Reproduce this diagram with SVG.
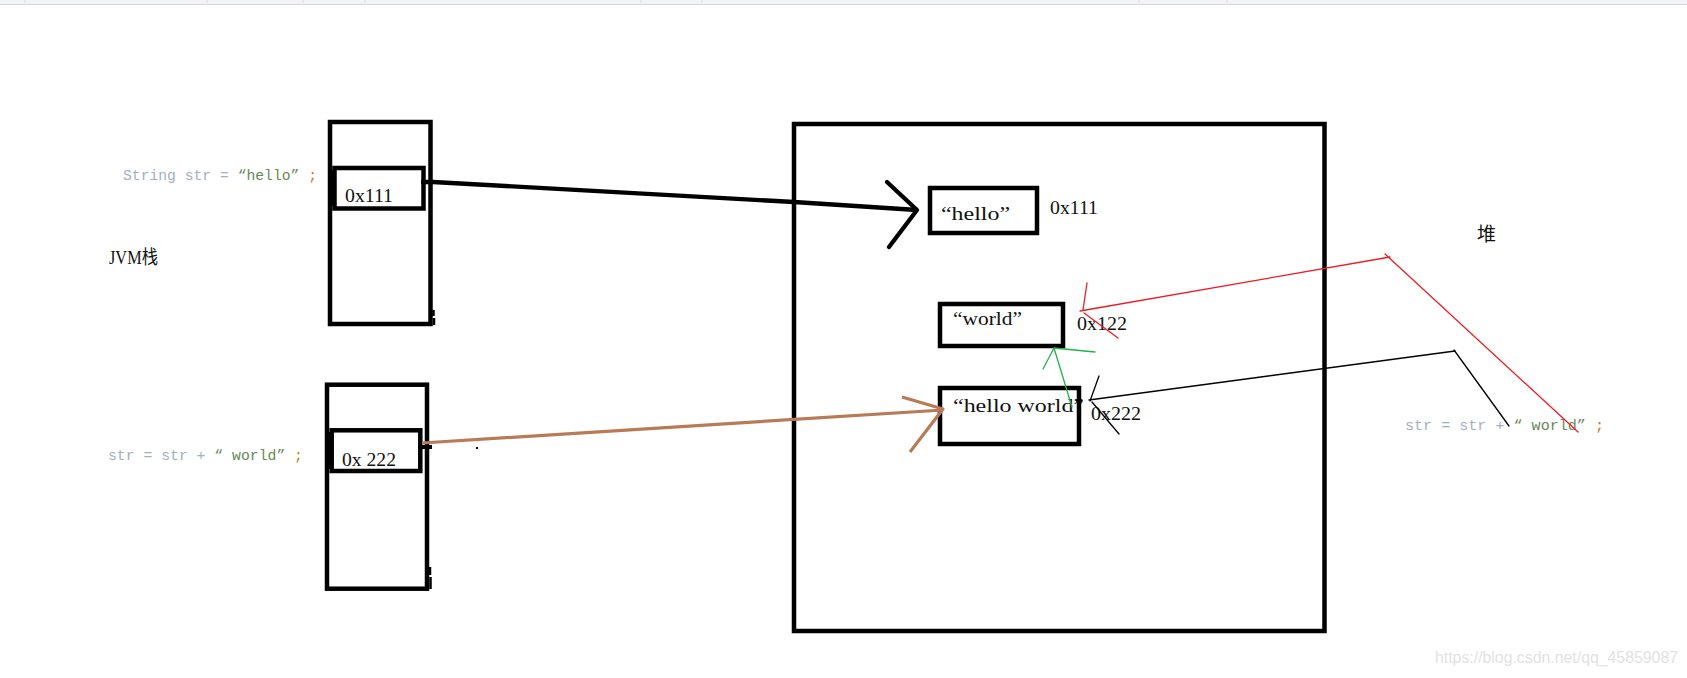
<svg xmlns="http://www.w3.org/2000/svg" width="1687" height="678" viewBox="0 0 1687 678">
  <style>
    .box { fill: none; stroke: #000; stroke-width: 4.5; }
    .lbl { font-family: "Liberation Serif", "Noto Sans CJK SC", serif; font-size: 19px; fill: #111; }
    .code { font-family: "Liberation Mono", monospace; font-size: 15px; }
    .g { fill: #a3afbf; }
    .s { fill: #6a8759; }
    .o { fill: #cc7832; }
    .thin { fill: none; stroke-width: 1.3; stroke-linecap: round; stroke-linejoin: round; }
    .nub { fill: none; stroke: #000; stroke-width: 2.5; }
  </style>
  <rect x="0" y="0" width="1687" height="678" fill="#fff"/>
  <!-- top toolbar strip -->
  <g id="toolbar">
    <rect x="0" y="0" width="1687" height="4" fill="#f3f4f6"/>
    <line x1="0" y1="4.5" x2="1687" y2="4.5" stroke="#d4d6d9" stroke-width="1"/>
    <g stroke="#dcdcdc" stroke-width="1">
      <line x1="25" y1="0" x2="25" y2="3"/><line x1="207" y1="0" x2="207" y2="3"/>
      <line x1="303" y1="0" x2="303" y2="3"/><line x1="365" y1="0" x2="365" y2="3"/>
      <line x1="641" y1="0" x2="641" y2="3"/><line x1="702" y1="0" x2="702" y2="3"/>
      <line x1="1139" y1="0" x2="1139" y2="3"/><line x1="1227" y1="0" x2="1227" y2="3"/>
    </g>
  </g>

  <!-- JVM stack frame 1 -->
  <g id="stack-frame-1">
    <rect class="box" x="330" y="122" width="100.5" height="202"/>
    <rect class="box" x="334.5" y="168" width="89" height="40.5"/>
    <rect x="328" y="170" width="6" height="36" fill="#000"/>
    <path class="nub" d="M433.5,310 L433.5,316 M434,318 L434,325"/>
    <text class="lbl" x="345" y="202" textLength="48" lengthAdjust="spacingAndGlyphs">0x111</text>
  </g>

  <!-- JVM stack frame 2 -->
  <g id="stack-frame-2">
    <rect class="box" x="327" y="384.7" width="100" height="204"/>
    <rect class="box" x="331.7" y="430.3" width="88.6" height="40.7"/>
    <rect x="325" y="432" width="6" height="37" fill="#000"/>
    <path class="nub" d="M430,567 L430,575 M430.5,577 L430.5,589"/>
    <text class="lbl" x="342" y="466" textLength="54" lengthAdjust="spacingAndGlyphs">0x 222</text>
  </g>

  <!-- heap area -->
  <g id="heap">
    <rect class="box" x="794" y="124" width="530.5" height="507"/>
  </g>

  <g id="str-hello">
    <rect class="box" x="930" y="188" width="107" height="45"/>
    <text class="lbl" x="941" y="220" textLength="69" lengthAdjust="spacingAndGlyphs">“hello”</text>
    <text class="lbl" x="1050" y="214" textLength="48" lengthAdjust="spacingAndGlyphs">0x111</text>
  </g>

  <g id="str-world">
    <rect class="box" x="940" y="304" width="123" height="42"/>
    <text class="lbl" x="953" y="325" textLength="69" lengthAdjust="spacingAndGlyphs">“world”</text>
    <text class="lbl" x="1077" y="330" textLength="50" lengthAdjust="spacingAndGlyphs">0x122</text>
  </g>

  <g id="str-hello-world">
    <text class="lbl" x="953" y="412" textLength="131" lengthAdjust="spacingAndGlyphs">“hello world”</text>
    <rect class="box" x="940" y="388" width="139" height="56"/>
    <text class="lbl" x="1091" y="420" textLength="50" lengthAdjust="spacingAndGlyphs">0x222</text>
  </g>

  <!-- labels -->
  <g id="labels">
    <text class="code" x="123" y="180" textLength="194" lengthAdjust="spacingAndGlyphs"><tspan class="g">String str = </tspan><tspan class="s">“hello”</tspan><tspan class="o"> ;</tspan></text>
    <text class="code" x="108" y="460" textLength="195" lengthAdjust="spacingAndGlyphs"><tspan class="g">str = str + </tspan><tspan class="s">“ world”</tspan><tspan class="o"> ;</tspan></text>
    <text class="code" x="1405" y="430" textLength="199" lengthAdjust="spacingAndGlyphs"><tspan class="g">str = str + </tspan><tspan class="s">“ world”</tspan><tspan class="o"> ;</tspan></text>
    <text class="lbl" x="109" y="264" textLength="49" lengthAdjust="spacingAndGlyphs">JVM栈</text>
    <text class="lbl" x="1477" y="241" font-size="18">堆</text>
    <text x="1435" y="663" font-family="Liberation Sans, sans-serif" font-size="16" fill="#e2e2e2" textLength="243" lengthAdjust="spacingAndGlyphs">https://blog.csdn.net/qq_45859087</text>
  </g>

  <!-- connectors -->
  <g id="connectors">
    <!-- str -> "hello" -->
    <path d="M421,182 L433,182 L794,202 L917,210" fill="none" stroke="#000" stroke-width="4.3" stroke-linejoin="round"/>
    <path d="M887,182 L917,210 L889,247" fill="none" stroke="#000" stroke-width="4.3" stroke-linecap="round" stroke-linejoin="round"/>
    <!-- str -> "hello world" -->
    <line x1="418" y1="447" x2="432" y2="447" stroke="#000" stroke-width="4"/>
    <rect x="476" y="447" width="2" height="2" fill="#000"/>
    <path d="M422,443 L943,410" fill="none" stroke="#b97a57" stroke-width="3.2"/>
    <path d="M902,397 L943,409 L910,452" fill="none" stroke="#b97a57" stroke-width="3.2" stroke-linejoin="round"/>
    <!-- green: "hello world" from "world" -->
    <path class="thin" d="M1072,407 L1054,348" stroke="#22b14c"/>
    <path class="thin" d="M1043,369 L1054,348 L1095,352" stroke="#22b14c"/>
    <!-- red -->
    <path class="thin" d="M1578,432 L1385,254" stroke="#ed1c24"/>
    <path class="thin" d="M1390,257 L1080,311" stroke="#ed1c24"/>
    <path class="thin" d="M1087,283 L1083,310 M1084,313 L1118,338" stroke="#ed1c24"/>
    <!-- black thin -->
    <path class="thin" d="M1454,350 L1509,426" stroke="#000"/>
    <path class="thin" d="M1455,351 L1089,400" stroke="#000"/>
    <path class="thin" d="M1099,376 L1090,401 M1092,402 L1119,434" stroke="#000"/>
  </g>
</svg>
